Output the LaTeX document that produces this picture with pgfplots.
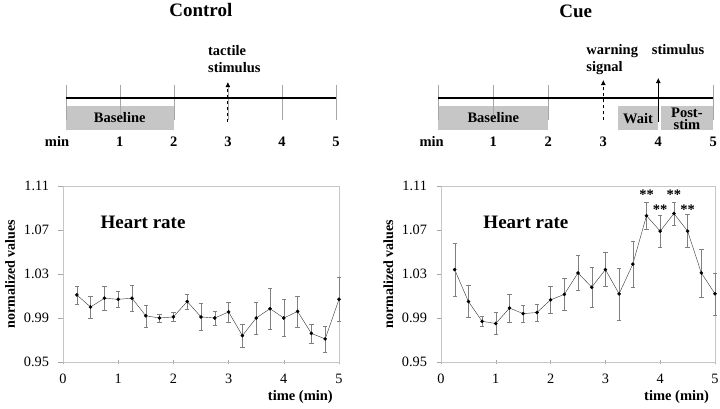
\documentclass[border=0pt]{standalone}
\usepackage{fontspec}
\setmainfont{Liberation Serif}
\usepackage{pgfplots}
\pgfplotsset{compat=1.18}
\usepackage{pgfplotstable}
\usetikzlibrary{arrows.meta}

\pgfplotstableread{
x y e
0.25 1.011 0.008
0.5 1.000 0.010
0.75 1.008 0.011
1.0 1.007 0.0075
1.25 1.008 0.012
1.5 0.992 0.010
1.75 0.990 0.0035
2.0 0.991 0.004
2.25 1.005 0.0067
2.5 0.991 0.0125
2.75 0.990 0.0064
3.0 0.9955 0.0093
3.25 0.974 0.0103
3.5 0.990 0.0146
3.75 0.9985 0.0184
4.0 0.990 0.0167
4.25 0.996 0.014
4.5 0.976 0.0087
4.75 0.971 0.012
5.0 1.007 0.020
}\control

\pgfplotstableread{
x y e
0.25 1.034 0.024
0.5 1.005 0.0146
0.75 0.987 0.0047
1.0 0.985 0.010
1.25 0.999 0.0128
1.5 0.994 0.0078
1.75 0.995 0.008
2.0 1.0065 0.012
2.25 1.0115 0.0144
2.5 1.031 0.016
2.75 1.018 0.0185
3.0 1.034 0.0155
3.25 1.012 0.0237
3.5 1.039 0.021
3.75 1.083 0.0126
4.0 1.069 0.0148
4.25 1.085 0.0102
4.5 1.069 0.015
4.75 1.031 0.022
5.0 1.012 0.019
}\cue

\newcommand{\lblfont}{\fontsize{14.5}{17}\selectfont\bfseries}
\newcommand{\titlefont}{\fontsize{19}{22}\selectfont\bfseries}

\pgfplotsset{
  timeline/.style={
    scale only axis, anchor=south west, height=150pt,
    xmin=0, xmax=5, ymin=0, ymax=150,
    axis lines=none, clip=false,
  },
  hrplot/.style={
    scale only axis, anchor=south west, height=176pt,
    xmin=0, xmax=5, ymin=0.95, ymax=1.11,
    xtick={0,1,2,3,4,5}, ytick={0.95,0.99,1.03,1.07,1.11},
    yticklabel style={xshift=-6pt, /pgf/number format/fixed, /pgf/number format/fixed zerofill, /pgf/number format/precision=2},
    /pgf/number format/assume math mode=true,
    tick label style={font=\fontsize{14.3}{16}\selectfont},
    axis line style={gray!45},
    tick style={gray!70, thin},
    xtick pos=bottom, ytick pos=left,
    major tick length=4.5pt,
    xtick align=center, ytick align=outside,
    xticklabel style={yshift=-6pt},
    ylabel={normalized values},
    ylabel style={at={(axis description cs:-0.192,0.5)}, anchor=center, font=\fontsize{14}{16}\selectfont\bfseries},
    xlabel={time (min)},
    xlabel style={at={(axis description cs:0.86,-0.2)}, anchor=center, font=\lblfont},
    clip=false,
  },
  hrline/.style={
    black!80, thin, mark=*, mark size=1.6pt, mark options={black},
    error bars/.cd, y dir=both, y explicit,
    error bar style={gray, thin},
    error mark options={rotate=90, mark size=2.2pt, gray},
  },
}

\begin{document}
\begin{tikzpicture}

% timeline, control
\begin{axis}[timeline, at={(65.7pt,-150pt)}, width=270.3pt]
  \fill[gray!45] (axis cs:0,20) rectangle (axis cs:2,44);
  \pgfplotsinvokeforeach{0,...,5}{\draw[gray!70] (axis cs:#1,30) -- (axis cs:#1,65);}
  \draw[line width=1.6pt] (axis cs:0,52) -- (axis cs:5,52);
  \draw[thick, dashed, -{Latex[length=5pt,width=5pt]}] (axis cs:3,28) -- (axis cs:3,68);
  \node[anchor=base, font=\lblfont] at (axis cs:1,27.3) {Baseline};
  \node[anchor=base west, font=\lblfont] at (axis cs:2.57,95) {tactile};
  \node[anchor=base west, font=\lblfont] at (axis cs:2.57,77.3) {stimulus};
  \node[anchor=base, font=\titlefont] at (axis cs:2.5,134) {Control};
  \node[anchor=base, font=\lblfont] at (axis cs:-0.16,3.3) {min};
  \pgfplotsinvokeforeach{1,...,5}{\node[anchor=base, font=\lblfont] at (axis cs:#1,3.3) {#1};}
\end{axis}

% timeline, cue
\begin{axis}[timeline, at={(438.3pt,-150pt)}, width=275pt]
  \fill[gray!45] (axis cs:0,20) rectangle (axis cs:2,44);
  \fill[gray!45] (axis cs:3.26,20) rectangle (axis cs:3.99,44);
  \fill[gray!45] (axis cs:4.05,20) rectangle (axis cs:5,44);
  \pgfplotsinvokeforeach{0,1,2,5}{\draw[gray!70] (axis cs:#1,30) -- (axis cs:#1,65);}
  \draw[line width=1.6pt] (axis cs:0,52) -- (axis cs:5,52);
  \draw[thick, dashed, -{Latex[length=5pt,width=5pt]}] (axis cs:3,30) -- (axis cs:3,70);
  \draw[thick, -{Latex[length=5pt,width=5pt]}] (axis cs:4,28) -- (axis cs:4,72);
  \node[anchor=base, font=\lblfont] at (axis cs:1,27.3) {Baseline};
  \node[anchor=base, font=\lblfont] at (axis cs:3.63,26.7) {Wait};
  \node[anchor=base, font=\lblfont, inner sep=0pt] at (axis cs:4.52,32.7) {Post-};
  \node[anchor=base, font=\lblfont, inner sep=0pt] at (axis cs:4.52,20.7) {stim};
  \node[anchor=base west, font=\lblfont] at (axis cs:2.63,95.7) {warning};
  \node[anchor=base west, font=\lblfont] at (axis cs:2.63,79) {signal};
  \node[anchor=base west, font=\lblfont] at (axis cs:3.82,95.7) {stimulus};
  \node[anchor=base, font=\titlefont] at (axis cs:2.5,133) {Cue};
  \node[anchor=base, font=\lblfont] at (axis cs:-0.12,3.3) {min};
  \pgfplotsinvokeforeach{1,...,5}{\node[anchor=base, font=\lblfont] at (axis cs:#1,3.3) {#1};}
\end{axis}

% heart rate, control
\begin{axis}[hrplot, at={(63pt,-362pt)}, width=276pt]
  \addplot[hrline] table[x=x, y=y, y error=e] {\control};
  \node[font=\titlefont] at (axis cs:1.45,1.0766) {Heart rate};
\end{axis}

% heart rate, cue
\begin{axis}[hrplot, at={(441pt,-362pt)}, width=274pt]
  \addplot[hrline] table[x=x, y=y, y error=e] {\cue};
  \node[font=\titlefont] at (axis cs:1.55,1.0766) {Heart rate};
  \node[font=\lblfont] at (axis cs:3.75,1.1025) {**};
  \node[font=\lblfont] at (axis cs:4.0,1.0885) {**};
  \node[font=\lblfont] at (axis cs:4.25,1.1025) {**};
  \node[font=\lblfont] at (axis cs:4.5,1.0885) {**};
\end{axis}

\pgfresetboundingbox
\path[use as bounding box] (0,0) rectangle (720pt,-408pt);
\end{tikzpicture}
\end{document}
